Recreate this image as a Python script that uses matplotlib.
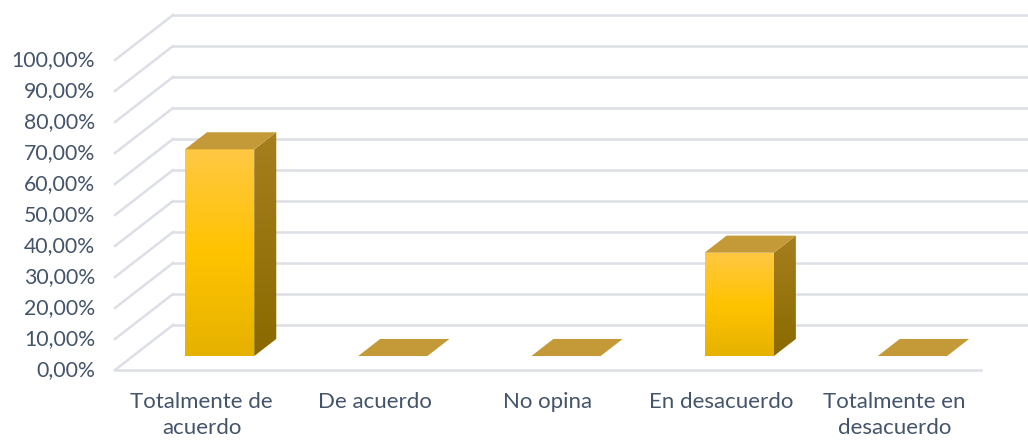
"""Pseudo-3D column chart (Excel style) drawn in pixel space."""
import numpy as np
import matplotlib.pyplot as plt
from matplotlib.patches import Polygon
from matplotlib.colors import LinearSegmentedColormap

plt.rcParams['font.family'] = ['Lato', 'DejaVu Sans']

categories = ["Totalmente de\nacuerdo", "De acuerdo", "No opina",
              "En desacuerdo", "Totalmente en\ndesacuerdo"]
values = [66.67, 0.0, 0.0, 33.33, 0.0]
ticks = [0, 10, 20, 30, 40, 50, 60, 70, 80, 90, 100]
tick_labels = [f"{t:.2f}".replace(".", ",") + "%" for t in ticks]

# layout (pixels)
X0, X1 = 115, 981        # front floor edge
Y0 = 370                 # front floor y (0 %)
PX_PER_PCT = 3.1
DX, DY = 58, -45         # back-wall offset
BAR_W = 0.4              # fraction of category width
D_FRONT, D_BACK = 0.31, 0.69

GRID = "#dcdfe5"
TEXT = "#44546a"
TOP = "#c49a38"
SIDE_TOP, SIDE_BOT = "#a67f1e", "#8a6a00"
FRONT_CM = LinearSegmentedColormap.from_list(
    "front", ["#ffc844", "#ffc300", "#e6b200"])
SIDE_CM = LinearSegmentedColormap.from_list("side", [SIDE_TOP, SIDE_BOT])


def proj(x, v, d):
    """Map front x pixel, value (%) and depth fraction to screen pixels."""
    return x + DX * d, Y0 - v * PX_PER_PCT + DY * d


fig = plt.figure(figsize=(10.28, 4.40), dpi=100)
ax = fig.add_axes([0, 0, 1, 1])
ax.set_xlim(0, 1028)
ax.set_ylim(440, 0)
ax.axis("off")

# gridlines: back wall + left side wall
for t in ticks:
    bx, by = proj(X0, t, 1)
    ax.plot([bx, 1040], [by, by], color=GRID, lw=1.8, zorder=1)
    fx, fy = proj(X0, t, 0)
    ax.plot([fx, bx], [fy, by], color=GRID, lw=1.8, zorder=1)
# floor front edge
ax.plot([X0, X1], [Y0, Y0], color=GRID, lw=1.8, zorder=1)

# y tick labels
for t, lab in zip(ticks, tick_labels):
    _, fy = proj(X0, t, 0)
    ax.text(95, fy, lab, ha="right", va="center", fontsize=15.3, color=TEXT)

cw = (X1 - X0) / len(categories)
for i, (cat, v) in enumerate(zip(categories, values)):
    cx = X0 + cw * (i + 0.5)
    ax.text(cx, 392, cat, ha="center", va="top", fontsize=16,
            color=TEXT, linespacing=1.4)
    xl, xr = cx - cw * BAR_W / 2, cx + cw * BAR_W / 2
    # corners
    fl_b = proj(xl, 0, D_FRONT)
    fr_b = proj(xr, 0, D_FRONT)
    fl_t = proj(xl, v, D_FRONT)
    fr_t = proj(xr, v, D_FRONT)
    bl_t = proj(xl, v, D_BACK)
    br_t = proj(xr, v, D_BACK)
    br_b = proj(xr, 0, D_BACK)
    if v > 0:
        # front face with vertical gradient
        grad = np.linspace(0, 1, 256).reshape(-1, 1)
        front = Polygon([fl_b, fr_b, fr_t, fl_t], closed=True,
                        facecolor="none", edgecolor="none")
        ax.add_patch(front)
        im = ax.imshow(grad, cmap=FRONT_CM, aspect="auto",
                       extent=(fl_t[0], fr_t[0], fl_b[1], fl_t[1]),
                       origin="upper", zorder=3)
        im.set_clip_path(front)
        # side face
        side = Polygon([fr_b, br_b, br_t, fr_t], closed=True,
                       facecolor="none", edgecolor="none")
        ax.add_patch(side)
        im2 = ax.imshow(grad, cmap=SIDE_CM, aspect="auto",
                        extent=(fr_t[0], br_t[0], fr_b[1], br_t[1]),
                        origin="upper", zorder=3)
        im2.set_clip_path(side)
    # top face
    ax.add_patch(Polygon([fl_t, fr_t, br_t, bl_t], closed=True,
                         facecolor=TOP, edgecolor="none", zorder=4))

ax.set_xlim(0, 1028)
ax.set_ylim(440, 0)
fig.savefig("out.png", dpi=100)
